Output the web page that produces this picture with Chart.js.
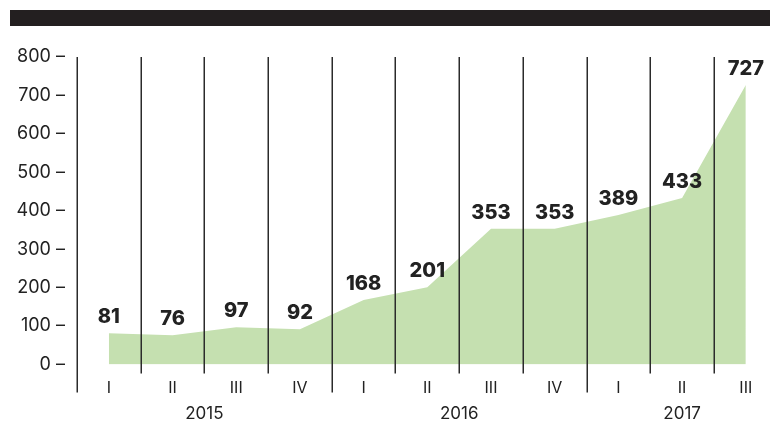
<!DOCTYPE html>
<html lang="en">
<head>
    <meta charset="UTF-8">
    <title>Quarterly values 2015-2017</title>
    <script src="https://cdn.jsdelivr.net/npm/chart.js"></script>
    <style>
        body, html {
            margin: 0;
            padding: 0;
            width: 770px;
            height: 423px;
            overflow: hidden;
            background: #fff;
        }
        #wrap { width: 770px; height: 423px; }
    </style>
</head>
<body>
<div id="wrap"><canvas id="chart"></canvas></div>
<script>
    const quarters = ["I", "II", "III", "IV", "I", "II", "III", "IV", "I", "II", "III"];
    const values = [81, 76, 97, 92, 168, 201, 353, 353, 389, 433, 727];
    const years = ["2015", "2016", "2017"];
    const yearStart = [0, 4, 8];   // index of first quarter of each year
    const yearEnd = [3, 7, 10];    // index of last quarter shown
    const yTicks = [0, 100, 200, 300, 400, 500, 600, 700, 800];

    const FONT = "Inter, 'Noto Sans', sans-serif";
    const ink = '#222';

    // quarter dividers, top banner, value labels, year labels
    const decor = {
        id: 'decor',
        beforeDraw(chart) {
            const ctx = chart.ctx;
            ctx.save();
            ctx.fillStyle = '#231f20';
            ctx.fillRect(10, 10, chart.width - 10, 16);
            ctx.restore();
        },
        afterDatasetsDraw(chart) {
            const { ctx, chartArea, scales: { x, y } } = chart;
            ctx.save();
            ctx.strokeStyle = '#2b2b2b';
            ctx.lineWidth = 1.5;
            for (let i = 0; i < values.length; i++) {
                const px = Math.round(x.getPixelForValue(i - 0.5)) + 0.25;
                const boundary = yearStart.includes(i);
                ctx.beginPath();
                ctx.moveTo(px, chartArea.top);
                ctx.lineTo(px, chartArea.bottom + (boundary ? 28 : 9));
                ctx.stroke();
            }

            ctx.fillStyle = ink;
            ctx.textAlign = 'center';
            ctx.textBaseline = 'middle';
            ctx.font = `800 20px ${FONT}`;
            values.forEach((v, i) => {
                ctx.fillText(String(v), x.getPixelForValue(i), y.getPixelForValue(v) - 16);
            });

            ctx.font = `400 17px ${FONT}`;
            years.forEach((yr, k) => {
                const mid = (yearStart[k] + yearEnd[k]) / 2;
                ctx.fillText(yr, x.getPixelForValue(mid), chartArea.bottom + 49);
            });
            ctx.restore();
        }
    };

    new Chart(document.getElementById('chart'), {
        type: 'line',
        data: {
            datasets: [{
                data: values.map((v, i) => ({ x: i, y: v })),
                fill: 'origin',
                backgroundColor: '#c5e0b0',
                borderWidth: 0,
                pointRadius: 0,
                tension: 0
            }]
        },
        options: {
            responsive: true,
            maintainAspectRatio: false,
            animation: false,
            layout: { padding: { top: 57, right: 0, left: 0, bottom: 0 } },
            plugins: { legend: { display: false }, tooltip: { enabled: false } },
            scales: {
                x: {
                    type: 'linear',
                    min: -0.5,
                    max: 10.38,
                    grid: { display: false },
                    border: { display: false },
                    afterBuildTicks: s => { s.ticks = quarters.map((q, i) => ({ value: i })); },
                    afterFit: s => { s.height = 58.5; },
                    ticks: {
                        autoSkip: false,
                        maxRotation: 0,
                        padding: 6,
                        color: ink,
                        font: { family: FONT, size: 16 },
                        callback: (v) => quarters[v]
                    }
                },
                y: {
                    min: 0,
                    max: 800,
                    grid: { display: false },
                    border: { display: false },
                    afterBuildTicks: s => { s.ticks = yTicks.map(v => ({ value: v })); },
                    afterFit: s => { s.width = 77; },
                    ticks: {
                        padding: 4,
                        color: ink,
                        font: { family: FONT, size: 18 },
                        callback: v => v + ' \u2013'
                    }
                }
            }
        },
        plugins: [decor]
    });
</script>
</body>
</html>
